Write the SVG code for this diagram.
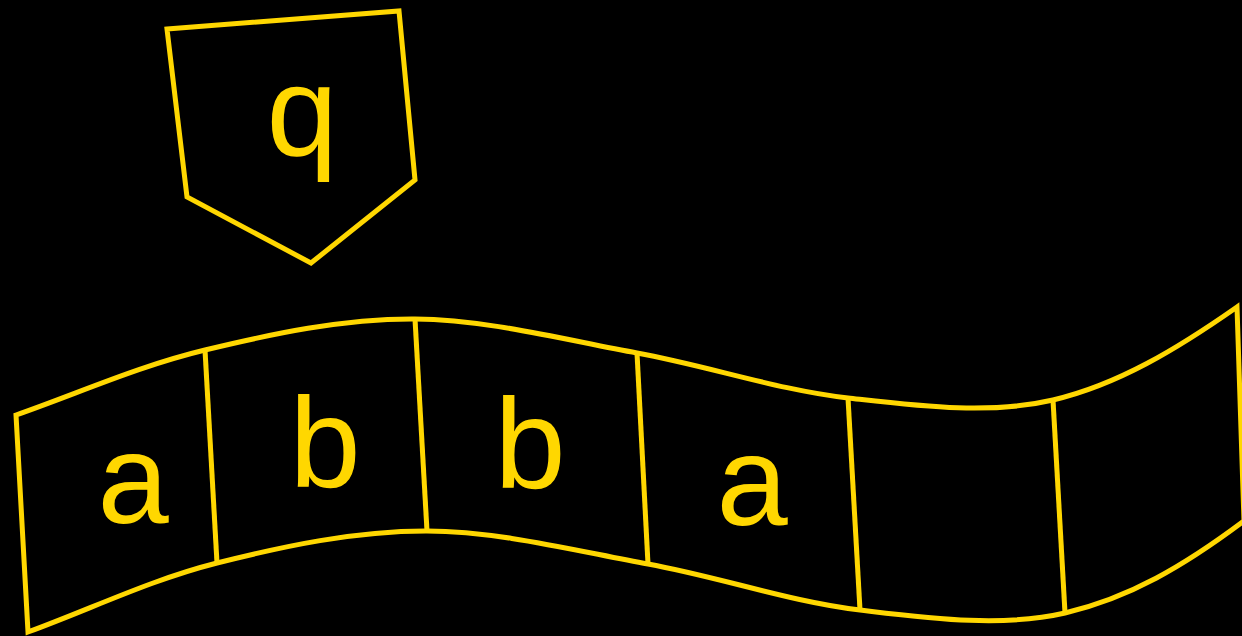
<svg xmlns="http://www.w3.org/2000/svg" width="1242" height="636" viewBox="0 0 1242 636">
<style>
.ln{fill:none;stroke:#FFD700;stroke-width:5;stroke-linejoin:miter}
.lbl{font-family:"Liberation Sans",Arial,sans-serif;font-size:128px;fill:#FFD700;text-anchor:middle}
</style>
<rect width="1242" height="636" fill="#000"/>
<g id="head">
<polygon class="ln" points="167,29 399,11 415,180 311,263 187,197"/>
<text class="lbl" x="302" y="155">q</text>
</g>
<g id="tape">
<path class="ln" d="M16,415 C79,393 138.5,366 205,350 C271.5,334 343,318.5 415,319 C487,319.5 564.8,339.8 637,353 C709.2,366.2 778.7,390.2 848,398 C917.3,405.8 988.2,415.2 1053,400 C1117.8,384.8 1177,349 1237,307 L1244,521 C1184,566 1129,598.2 1065,613 C1001,627.8 929.5,618.2 860,610 C790.5,601.8 720.2,577.2 648,564 C575.8,550.8 498.8,531.2 427,531 C355.2,530.8 283.5,546.2 217,563 C150.5,579.8 91,609 28,632 Z"/>
</g>
<g id="connectors">
<line class="ln" x1="205" y1="350" x2="217" y2="563"/>
<line class="ln" x1="415" y1="319" x2="427" y2="531"/>
<line class="ln" x1="637" y1="353" x2="648" y2="564"/>
<line class="ln" x1="848" y1="398" x2="860" y2="610"/>
<line class="ln" x1="1053" y1="400" x2="1065" y2="613"/>
</g>
<g id="cells">
<text class="lbl" x="133" y="523">a</text>
<text class="lbl" x="325" y="487">b</text>
<text class="lbl" x="530" y="488">b</text>
<text class="lbl" x="752" y="525">a</text>
</g>
</svg>
